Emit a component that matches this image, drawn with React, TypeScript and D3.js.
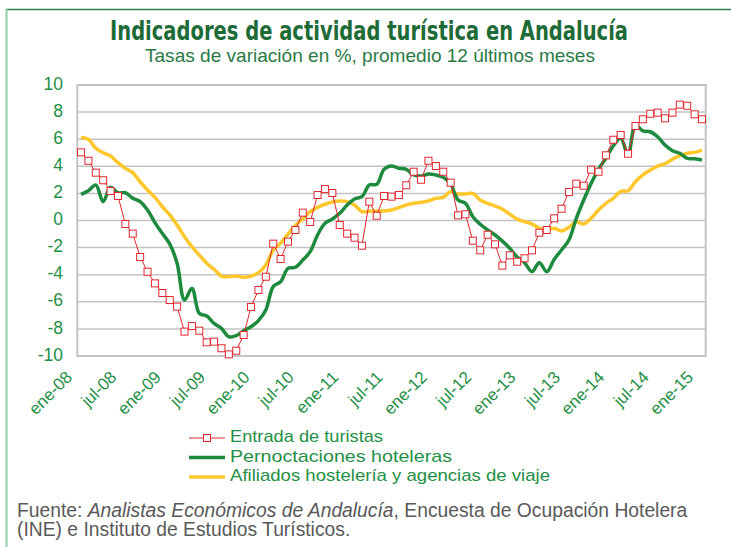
import React from 'react';
import * as d3 from 'd3';

// monthly categories ene-08 .. ene-15
const monthNames = ['ene', 'feb', 'mar', 'abr', 'may', 'jun', 'jul', 'ago', 'sep', 'oct', 'nov', 'dic'];
const years = ['08', '09', '10', '11', '12', '13', '14', '15'];
const categories: string[] = [];
years.forEach((yr) => monthNames.forEach((m) => categories.push(`${m}-${yr}`)));
categories.splice(85);

const tickLabels = [
  'ene-08', 'jul-08', 'ene-09', 'jul-09', 'ene-10', 'jul-10', 'ene-11', 'jul-11',
  'ene-12', 'jul-12', 'ene-13', 'jul-13', 'ene-14', 'jul-14', 'ene-15',
];

const yTicks = [-10, -8, -6, -4, -2, 0, 2, 4, 6, 8, 10];

const seriesNames = ['Entrada de turistas', 'Pernoctaciones hoteleras', 'Afiliados hostelería y agencias de viaje'];

const entradaTuristas = [
  5.03, 4.41, 3.53, 2.97, 2.18, 1.81, -0.26, -0.97, -2.69, -3.78, -4.64, -5.35, -5.87, -6.36, -8.2,
  -7.79, -8.13, -8.99, -8.94, -9.43, -9.88, -9.61, -8.45, -6.38, -5.13, -4.15, -1.71, -2.84, -1.56, -0.7,
  0.58, -0.11, 1.88, 2.32, 2.03, -0.33, -0.97, -1.27, -1.86, 1.39, 0.35, 1.81, 1.76, 1.88, 2.6,
  3.6, 3.01, 4.41, 4.02, 3.6, 2.79, 0.38, 0.46, -1.49, -2.2, -1.05, -1.76, -3.33, -2.57, -3.04,
  -2.79, -2.2, -0.9, -0.7, 0.16, 0.87, 2.1, 2.72, 2.57, 3.75, 3.6, 4.81, 5.96, 6.31, 4.93,
  6.97, 7.47, 7.88, 7.96, 7.54, 7.96, 8.55, 8.47, 7.84, 7.47,
];

const pernoctaciones = [
  1.93, 2.2, 2.62, 1.39, 2.45, 2.05, 2.05, 1.64, 1.39, 0.77, -0.16, -0.95, -1.73, -3.16, -5.87,
  -5.0, -6.85, -7.05, -7.59, -7.96, -8.58, -8.5, -8.13, -7.84, -7.39, -6.61, -4.88, -4.52, -3.53, -3.45,
  -2.92, -2.3, -1.07, -0.21, 0.11, 0.53, 1.14, 1.59, 1.76, 2.62, 2.67, 3.78, 4.02, 3.85, 3.78,
  3.36, 3.28, 3.43, 3.36, 3.19, 2.69, 1.51, 1.27, 0.28, -0.28, -0.7, -1.07, -1.52, -2.05, -2.7,
  -3.11, -3.78, -3.11, -3.78, -2.87, -2.18, -1.44, 0.16, 1.51, 2.74, 3.78, 4.59, 5.5, 6.07, 4.83,
  7.05, 6.61, 6.55, 6.18, 5.57, 5.15, 4.96, 4.59, 4.56, 4.46,
];

const afiliados = [
  6.14, 5.99, 5.33, 5.0, 4.76, 4.27, 3.85, 3.53, 2.86, 2.25, 1.71, 1.02, 0.41, -0.33, -1.2,
  -1.93, -2.55, -3.16, -3.6, -4.1, -4.15, -4.1, -4.19, -4.1, -3.85, -3.28, -2.18, -1.68, -1.0, -0.36,
  0.11, 0.65, 0.97, 1.2, 1.37, 1.44, 1.39, 1.14, 0.65, 0.68, 0.7, 0.7, 0.77, 0.95, 1.14,
  1.27, 1.34, 1.44, 1.64, 1.71, 2.13, 1.96, 1.96, 2.0, 1.51, 1.27, 1.07, 0.83, 0.46, 0.1,
  -0.09, -0.26, -0.58, -0.65, -0.58, -0.77, -0.5, -0.09, -0.26, 0.16, 0.77, 1.27, 1.64, 2.15, 2.2,
  2.86, 3.36, 3.73, 4.02, 4.19, 4.52, 4.78, 4.96, 5.03, 5.2,
];

const RED = '#e0262e';
const GREEN = '#1e8a3e';
const YELLOW = '#ffc72c';
const LABEL = '#1f8f45';
const GRID = '#c3c3c3';

export default function App() {
  const W = 731;
  const H = 547;
  const plot = { left: 77.3, right: 705.7, top: 85, bottom: 356 };

  const x = d3.scaleBand<string>().domain(categories).range([plot.left, plot.right]);
  const cx = (i: number) => (x(categories[i]) ?? 0) + x.bandwidth() / 2;
  const y = d3.scaleLinear().domain([-10, 10]).range([plot.bottom, plot.top]);

  const straight = d3.line<number>().x((_, i) => cx(i)).y((d) => y(d));
  const smooth = d3.line<number>().x((_, i) => cx(i)).y((d) => y(d)).curve(d3.curveCatmullRom.alpha(0.5));

  const font = '"Liberation Sans", Arial, sans-serif';
  const legendRows = [438, 457.5, 477];
  const legendWidths = [153, 222, 320];

  return (
    <svg width={W} height={H} style={{ position: 'absolute', left: 0, top: 0, background: '#fff' }}>
      {/* frame */}
      <line x1={6} x2={W} y1={9.5} y2={9.5} stroke="#2f7d4b" strokeWidth={1.5} />
      <line x1={6.5} x2={6.5} y1={9} y2={H} stroke="#8fcea5" strokeWidth={2} />

      <text x={369} y={40} textAnchor="middle" fontFamily='"Liberation Sans Narrow", "DejaVu Sans Condensed", sans-serif'
        fontWeight="bold" fontSize={26} fill="#1d6b36" textLength={518} lengthAdjust="spacingAndGlyphs">
        Indicadores de actividad turística en Andalucía
      </text>
      <text x={370} y={62} textAnchor="middle" fontFamily={font} fontSize={19} fill="#2a7a45"
        textLength={450} lengthAdjust="spacingAndGlyphs">
        Tasas de variación en %, promedio 12 últimos meses
      </text>

      {/* grid */}
      {yTicks.map((t) => (
        <g key={t}>
          <line x1={plot.left} x2={plot.right} y1={y(t)} y2={y(t)} stroke={GRID} strokeWidth={1.5} />
          <text x={63} y={y(t)} textAnchor="end" dominantBaseline="middle" fontFamily={font} fontSize={17.5} fill={LABEL}>
            {t}
          </text>
        </g>
      ))}
      <rect x={plot.left} y={plot.top} width={plot.right - plot.left} height={plot.bottom - plot.top}
        fill="none" stroke={GRID} strokeWidth={2} />

      {/* x labels */}
      {tickLabels.map((lab) => {
        const i = categories.indexOf(lab);
        const px = cx(i) - 12;
        return (
          <text key={lab} transform={`translate(${px},374) rotate(-45)`} textAnchor="end" dy="0.35em"
            fontFamily={font} fontSize={17} fill={LABEL}>
            {lab}
          </text>
        );
      })}

      {/* series */}
      <path d={smooth(afiliados) ?? ''} fill="none" stroke={YELLOW} strokeWidth={3.5} />
      <path d={smooth(pernoctaciones) ?? ''} fill="none" stroke={GREEN} strokeWidth={3.5} />
      <path d={straight(entradaTuristas) ?? ''} fill="none" stroke={RED} strokeWidth={1} />
      {entradaTuristas.map((v, i) => (
        <rect key={i} x={cx(i) - 3.5} y={y(v) - 3.5} width={7} height={7} fill="#fff" stroke={RED} strokeWidth={1} />
      ))}

      {/* legend */}
      <g fontFamily={font} fontSize={17} fill={LABEL}>
        <line x1={189} x2={225} y1={legendRows[0]} y2={legendRows[0]} stroke={RED} strokeWidth={1} />
        <rect x={203.5} y={legendRows[0] - 3.5} width={7} height={7} fill="#fff" stroke={RED} />
        <line x1={189} x2={225} y1={legendRows[1]} y2={legendRows[1]} stroke={GREEN} strokeWidth={3.5} />
        <line x1={189} x2={225} y1={legendRows[2]} y2={legendRows[2]} stroke={YELLOW} strokeWidth={3.5} />
        {seriesNames.map((name, k) => (
          <text key={name} x={230} y={legendRows[k]} dominantBaseline="middle"
            textLength={legendWidths[k]} lengthAdjust="spacingAndGlyphs">
            {name}
          </text>
        ))}
      </g>

      {/* source */}
      <g fontFamily={font} fontSize={19.3} fill="#595959">
        <text x={17} y={517}>
          Fuente: <tspan fontStyle="italic">Analistas Económicos de Andalucía</tspan>, Encuesta de Ocupación Hotelera
        </text>
        <text x={17} y={536}>(INE) e Instituto de Estudios Turísticos.</text>
      </g>
    </svg>
  );
}
